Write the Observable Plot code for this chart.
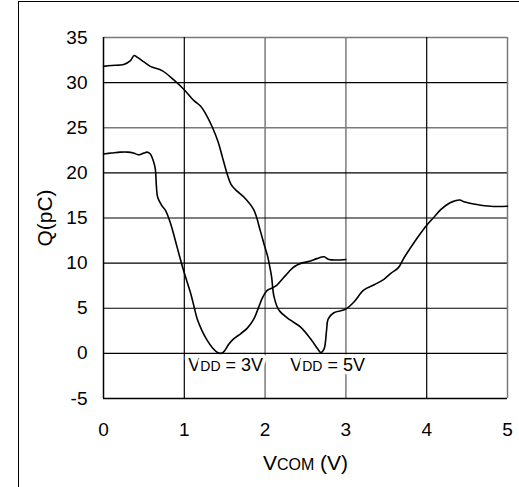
<!DOCTYPE html>
<html>
<head>
<meta charset="utf-8">
<script src="https://cdn.jsdelivr.net/npm/d3@7"></script>
<script src="https://cdn.jsdelivr.net/npm/@observablehq/plot@0.6"></script>
<style>
  html, body { margin: 0; padding: 0; background: #fff; overflow: hidden; }
  #wrap { position: relative; width: 519px; height: 487px; }
  #frame { position: absolute; left: 18px; top: 1px; width: 700px; height: 700px; border: 1.5px solid #000; box-sizing: border-box; }
  #chart { position: absolute; left: 0; top: 0; }
</style>
</head>
<body>
<div id="wrap"><div id="frame"></div><div id="chart"></div></div>
<script>
// VDD = 3V curve
const v3x = [0.00,0.10,0.21,0.30,0.37,0.44,0.50,0.54,0.58,0.61,0.64,0.655,0.67,0.72,0.77,0.83,0.91,0.99,1.08,1.12,1.16,1.22,1.28,1.35,1.41,1.45,1.49,1.55,1.61,1.70,1.78,1.86,1.92,1.97,2.03,2.10,2.15,2.23,2.30,2.36,2.45,2.55,2.64,2.73,2.79,3.00];
const v3q = [22.1,22.2,22.3,22.3,22.2,22.0,22.2,22.3,22.1,21.5,20.5,18.5,17.3,16.4,15.8,14.4,11.8,9.2,6.6,5.2,3.8,2.5,1.5,0.6,0.1,0.0,0.2,1.0,1.6,2.2,2.8,3.8,5.1,6.2,7.0,7.3,7.6,8.4,9.1,9.6,10.0,10.2,10.5,10.7,10.4,10.4];
// VDD = 5V curve
const v5x = [0.00,0.10,0.25,0.33,0.38,0.42,0.50,0.58,0.73,0.87,0.99,1.12,1.20,1.28,1.35,1.42,1.47,1.53,1.58,1.65,1.74,1.86,1.94,1.99,2.03,2.06,2.08,2.11,2.17,2.31,2.44,2.58,2.65,2.69,2.73,2.76,2.78,2.85,3.00,3.10,3.22,3.35,3.47,3.56,3.65,3.72,3.80,3.90,4.00,4.10,4.17,4.29,4.41,4.46,4.62,4.79,5.00];
const v5q = [31.8,31.9,32.0,32.4,33.0,32.8,32.3,31.8,31.3,30.3,29.3,28.0,27.4,26.3,25.0,23.4,21.8,19.9,18.7,18.0,17.3,15.9,13.6,12.0,10.8,9.5,8.5,6.3,4.8,3.7,2.9,1.4,0.5,0.1,0.5,2.5,3.8,4.5,4.9,5.7,7.0,7.6,8.2,8.9,9.5,10.6,11.7,13.0,14.2,15.2,15.9,16.7,17.0,16.8,16.5,16.3,16.3];

const xTicks = [0,1,2,3,4,5];
const yTicks = [-5,0,5,10,15,20,25,30,35];
const gridXDark = [1,4];
const gridXLight = [2,3];
const gridYDark = [0,5,10,15,20,30];
const gridYLight = [25,35];
const labelText = ["VDD = 3V","VDD = 5V"];
const labelX = [1.05, 2.31];
const labelY = [-1.35, -1.35];

const s3 = v3x.map((x,i)=>({x, q:v3q[i]}));
const s5 = v5x.map((x,i)=>({x, q:v5q[i]}));
const labels = labelText.map((t,i)=>({t, x:labelX[i], y:labelY[i]}));

const plot = Plot.plot({
  width: 519, height: 487,
  marginLeft: 103, marginRight: 12, marginTop: 37, marginBottom: 89,
  style: {fontFamily: "'Liberation Sans', Arial, sans-serif", fontSize: "19px", color: "#000", background: "transparent", overflow: "visible"},
  x: {domain: [0,5], ticks: xTicks, tickSize: 0, tickPadding: 24, tickFormat: d => String(d), label: "VCOM (V)", labelAnchor: "center", labelArrow: false, labelOffset: 71},
  y: {domain: [-5,35], ticks: yTicks, tickSize: 0, tickPadding: 16, tickFormat: d => String(d), label: "Q(pC)", labelAnchor: "center", labelArrow: false, labelOffset: 66},
  marks: [
    Plot.ruleX(gridXLight, {stroke: "#7a7a7a", strokeWidth: 1.5}),
    Plot.ruleY(gridYLight, {stroke: "#7a7a7a", strokeWidth: 1.5}),
    Plot.ruleX(gridXDark, {stroke: "#000", strokeWidth: 1.2}),
    Plot.ruleY(gridYDark, {stroke: "#000", strokeWidth: 1.2}),
    Plot.ruleX([5], {stroke: "#7a7a7a", strokeWidth: 1.5}),
    Plot.ruleX([0], {stroke: "#000", strokeWidth: 1.5}),
    Plot.ruleY([-5], {stroke: "#000", strokeWidth: 1.5}),
    Plot.line(s3, {x: "x", y: "q", stroke: "#000", strokeWidth: 1.6, curve: "catmull-rom"}),
    Plot.line(s5, {x: "x", y: "q", stroke: "#000", strokeWidth: 1.6, curve: "catmull-rom"}),
    Plot.text(labels, {x: "x", y: "y", text: "t", textAnchor: "start", lineAnchor: "middle", fontSize: 18, fill: "#000", stroke: "#fff", strokeWidth: 7})
  ]
});
document.getElementById("chart").appendChild(plot);

// subscripts and label sizes
d3.select(plot).selectAll("text").each(function() {
  const el = d3.select(this);
  const tx = this.textContent;
  if (tx === "VCOM (V)") {
    this.textContent = "";
    el.attr("font-size", "21px");
    el.append("tspan").text("V");
    el.append("tspan").attr("font-size", "16px").text("COM");
    el.append("tspan").text(" (V)");
  } else if (tx === "Q(pC)") {
    el.attr("font-size", "21px");
  } else if (tx.startsWith("VDD")) {
    this.textContent = "";
    el.append("tspan").text("V");
    el.append("tspan").attr("font-size", "14px").text("DD");
    el.append("tspan").text(tx.slice(3));
  }
});
</script>
</body>
</html>
